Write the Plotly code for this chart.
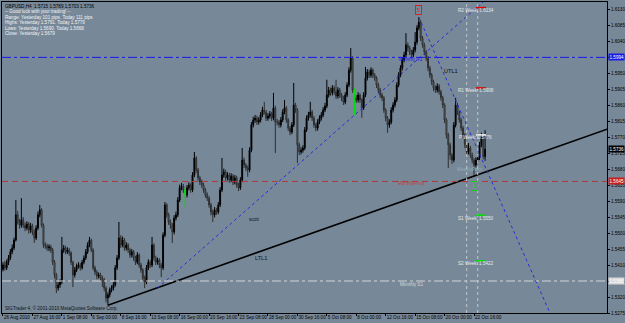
import plotly.graph_objects as go

# ---------------- data ----------------
OPEN_FIRST = 1.5398
CLOSES = [
    1.5410, 1.5402, 1.5418, 1.5430, 1.5447, 1.5458, 1.5480, 1.5551, 1.5531, 1.5522,
    1.5537, 1.5522, 1.5514, 1.5525, 1.5508, 1.5520, 1.5503, 1.5486, 1.5514, 1.5551,
    1.5565, 1.5522, 1.5466, 1.5463, 1.5458, 1.5461, 1.5452, 1.5418, 1.5382, 1.5345,
    1.5354, 1.5362, 1.5452, 1.5458, 1.5447, 1.5452, 1.5444, 1.5418, 1.5382, 1.5396,
    1.5407, 1.5410, 1.5402, 1.5418, 1.5430, 1.5447, 1.5466, 1.5480, 1.5452, 1.5402,
    1.5390, 1.5379, 1.5382, 1.5373, 1.5368, 1.5345, 1.5317, 1.5326, 1.5340, 1.5345,
    1.5354, 1.5402, 1.5430, 1.5486, 1.5466, 1.5480, 1.5458, 1.5466, 1.5452, 1.5438,
    1.5447, 1.5430, 1.5418, 1.5438, 1.5410, 1.5396, 1.5373, 1.5362, 1.5402, 1.5418,
    1.5410, 1.5466, 1.5430, 1.5418, 1.5424, 1.5410, 1.5402, 1.5494, 1.5579, 1.5551,
    1.5531, 1.5522, 1.5503, 1.5542, 1.5551, 1.5593, 1.5627, 1.5632, 1.5621, 1.5607,
    1.5627, 1.5635, 1.5621, 1.5663, 1.5711, 1.5677, 1.5655, 1.5643, 1.5635, 1.5621,
    1.5607, 1.5598, 1.5579, 1.5559, 1.5551, 1.5565, 1.5559, 1.5579, 1.5621, 1.5663,
    1.5672, 1.5655, 1.5663, 1.5649, 1.5660, 1.5643, 1.5655, 1.5635, 1.5627, 1.5649,
    1.5705, 1.5691, 1.5683, 1.5677, 1.5733, 1.5804, 1.5818, 1.5823, 1.5812, 1.5818,
    1.5832, 1.5846, 1.5840, 1.5823, 1.5829, 1.5835, 1.5823, 1.5852, 1.5812, 1.5812,
    1.5804, 1.5818, 1.5840, 1.5852, 1.5818, 1.5795, 1.5784, 1.5804, 1.5860, 1.5846,
    1.5748, 1.5728, 1.5733, 1.5739, 1.5790, 1.5823, 1.5832, 1.5840, 1.5823, 1.5804,
    1.5795, 1.5812, 1.5823, 1.5832, 1.5846, 1.5857, 1.5888, 1.5902, 1.5894, 1.5908,
    1.5897, 1.5885, 1.5902, 1.5888, 1.5880, 1.5868, 1.5888, 1.5916, 1.5958, 1.5992,
    1.5902, 1.5880, 1.5874, 1.5888, 1.5874, 1.5852, 1.5888, 1.5936, 1.5953, 1.5944,
    1.5958, 1.5944, 1.5936, 1.5916, 1.5902, 1.5888, 1.5880, 1.5846, 1.5823, 1.5804,
    1.5812, 1.5846, 1.5860, 1.5874, 1.5916, 1.5944, 1.5964, 1.5987, 1.6001, 1.6029,
    1.6020, 1.6009, 1.6001, 1.6015, 1.6037, 1.6077, 1.6093, 1.6048, 1.6029, 1.6009,
    1.5992, 1.5964, 1.5944, 1.5925, 1.5908, 1.5902, 1.5913, 1.5897, 1.5880, 1.5860,
    1.5818, 1.5776, 1.5748, 1.5719, 1.5705, 1.5804, 1.5860, 1.5840, 1.5818, 1.5795,
    1.5776, 1.5748, 1.5728, 1.5739, 1.5719, 1.5705, 1.5691, 1.5705, 1.5711, 1.5748,
    1.5767, 1.5715, 1.5736,
]
HIGHS = [
    1.5418, 1.5421, 1.5425, 1.5438, 1.5455, 1.5468, 1.5487, 1.5593, 1.5562, 1.5540,
    1.5598, 1.5545, 1.5530, 1.5533, 1.5531, 1.5528, 1.5526, 1.5510, 1.5522, 1.5560,
    1.5579, 1.5570, 1.5527, 1.5474, 1.5470, 1.5468, 1.5467, 1.5458, 1.5424, 1.5388,
    1.5362, 1.5370, 1.5489, 1.5466, 1.5464, 1.5460, 1.5458, 1.5448, 1.5422, 1.5404,
    1.5414, 1.5418, 1.5416, 1.5425, 1.5437, 1.5455, 1.5474, 1.5489, 1.5484, 1.5457,
    1.5408, 1.5396, 1.5389, 1.5388, 1.5380, 1.5374, 1.5350, 1.5333, 1.5347, 1.5353,
    1.5362, 1.5410, 1.5438, 1.5531, 1.5494, 1.5490, 1.5486, 1.5474, 1.5472, 1.5458,
    1.5455, 1.5452, 1.5436, 1.5446, 1.5443, 1.5416, 1.5401, 1.5380, 1.5410, 1.5426,
    1.5424, 1.5489, 1.5471, 1.5436, 1.5431, 1.5429, 1.5416, 1.5502, 1.5587, 1.5584,
    1.5557, 1.5538, 1.5528, 1.5550, 1.5560, 1.5601, 1.5636, 1.5641, 1.5638, 1.5627,
    1.5635, 1.5643, 1.5640, 1.5671, 1.5728, 1.5716, 1.5683, 1.5661, 1.5650, 1.5641,
    1.5627, 1.5614, 1.5604, 1.5585, 1.5566, 1.5573, 1.5571, 1.5587, 1.5629, 1.5711,
    1.5681, 1.5678, 1.5671, 1.5669, 1.5668, 1.5666, 1.5663, 1.5661, 1.5641, 1.5657,
    1.5739, 1.5712, 1.5697, 1.5690, 1.5741, 1.5812, 1.5827, 1.5832, 1.5830, 1.5826,
    1.5840, 1.5855, 1.5869, 1.5846, 1.5837, 1.5843, 1.5841, 1.5894, 1.5858, 1.5821,
    1.5818, 1.5826, 1.5848, 1.5874, 1.5857, 1.5823, 1.5801, 1.5812, 1.5922, 1.5866,
    1.5851, 1.5754, 1.5741, 1.5747, 1.5798, 1.5831, 1.5841, 1.5869, 1.5846, 1.5829,
    1.5810, 1.5820, 1.5831, 1.5840, 1.5854, 1.5866, 1.5931, 1.5911, 1.5909, 1.5916,
    1.5914, 1.5931, 1.5910, 1.5908, 1.5894, 1.5886, 1.5896, 1.5924, 1.5966, 1.6020,
    1.5997, 1.5906, 1.5888, 1.5896, 1.5893, 1.5879, 1.5896, 1.5967, 1.5961, 1.5960,
    1.5966, 1.5963, 1.5950, 1.5941, 1.5922, 1.5908, 1.5894, 1.5885, 1.5851, 1.5829,
    1.5820, 1.5854, 1.5868, 1.5882, 1.5924, 1.5952, 1.5972, 1.5995, 1.6010, 1.6062,
    1.6036, 1.6026, 1.6015, 1.6023, 1.6065, 1.6085, 1.6107, 1.6099, 1.6054, 1.6035,
    1.6015, 1.5998, 1.5970, 1.5950, 1.5931, 1.5915, 1.5921, 1.5919, 1.5903, 1.5886,
    1.5865, 1.5823, 1.5782, 1.5754, 1.5725, 1.5812, 1.5880, 1.5866, 1.5845, 1.5824,
    1.5801, 1.5781, 1.5754, 1.5753, 1.5745, 1.5726, 1.5711, 1.5713, 1.5719, 1.5756,
    1.5782, 1.5772, 1.5789,
]
LOWS = [
    1.5392, 1.5394, 1.5396, 1.5410, 1.5424, 1.5440, 1.5452, 1.5476, 1.5524, 1.5512,
    1.5515, 1.5514, 1.5505, 1.5508, 1.5498, 1.5500, 1.5494, 1.5472, 1.5480, 1.5508,
    1.5544, 1.5515, 1.5458, 1.5455, 1.5450, 1.5449, 1.5444, 1.5410, 1.5372, 1.5331,
    1.5338, 1.5346, 1.5356, 1.5444, 1.5440, 1.5441, 1.5436, 1.5410, 1.5348, 1.5375,
    1.5390, 1.5400, 1.5394, 1.5397, 1.5412, 1.5424, 1.5441, 1.5460, 1.5446, 1.5395,
    1.5382, 1.5370, 1.5372, 1.5365, 1.5348, 1.5336, 1.5305, 1.5297, 1.5319, 1.5333,
    1.5338, 1.5349, 1.5396, 1.5424, 1.5458, 1.5460, 1.5450, 1.5451, 1.5444, 1.5430,
    1.5431, 1.5422, 1.5410, 1.5412, 1.5402, 1.5388, 1.5364, 1.5345, 1.5356, 1.5396,
    1.5402, 1.5404, 1.5422, 1.5410, 1.5411, 1.5401, 1.5376, 1.5396, 1.5488, 1.5543,
    1.5523, 1.5512, 1.5472, 1.5496, 1.5535, 1.5545, 1.5587, 1.5620, 1.5613, 1.5573,
    1.5600, 1.5620, 1.5613, 1.5615, 1.5657, 1.5669, 1.5647, 1.5635, 1.5627, 1.5613,
    1.5599, 1.5590, 1.5571, 1.5550, 1.5531, 1.5544, 1.5551, 1.5553, 1.5573, 1.5615,
    1.5655, 1.5647, 1.5648, 1.5641, 1.5643, 1.5635, 1.5637, 1.5627, 1.5618, 1.5621,
    1.5643, 1.5683, 1.5674, 1.5658, 1.5671, 1.5727, 1.5797, 1.5810, 1.5804, 1.5805,
    1.5811, 1.5826, 1.5833, 1.5815, 1.5816, 1.5822, 1.5815, 1.5817, 1.5725, 1.5803,
    1.5796, 1.5797, 1.5812, 1.5834, 1.5810, 1.5787, 1.5775, 1.5778, 1.5798, 1.5838,
    1.5697, 1.5719, 1.5721, 1.5726, 1.5733, 1.5784, 1.5816, 1.5825, 1.5815, 1.5796,
    1.5786, 1.5788, 1.5806, 1.5816, 1.5826, 1.5840, 1.5851, 1.5881, 1.5886, 1.5887,
    1.5889, 1.5877, 1.5878, 1.5880, 1.5871, 1.5860, 1.5862, 1.5882, 1.5910, 1.5951,
    1.5894, 1.5832, 1.5866, 1.5867, 1.5866, 1.5824, 1.5846, 1.5882, 1.5929, 1.5936,
    1.5937, 1.5936, 1.5928, 1.5908, 1.5893, 1.5880, 1.5871, 1.5838, 1.5814, 1.5782,
    1.5796, 1.5806, 1.5839, 1.5853, 1.5868, 1.5910, 1.5938, 1.5957, 1.5980, 1.5995,
    1.6011, 1.6001, 1.5992, 1.5994, 1.6008, 1.6030, 1.6070, 1.6040, 1.6021, 1.6000,
    1.5984, 1.5955, 1.5936, 1.5916, 1.5899, 1.5894, 1.5895, 1.5889, 1.5872, 1.5851,
    1.5809, 1.5766, 1.5683, 1.5706, 1.5694, 1.5699, 1.5797, 1.5832, 1.5810, 1.5787,
    1.5767, 1.5739, 1.5719, 1.5721, 1.5711, 1.5696, 1.5658, 1.5684, 1.5698, 1.5705,
    1.5741, 1.5707, 1.5703,
]
GREEN_BARS = [99, 191]

X_TICK_BARS = [0, 16, 32, 48, 64, 80, 96, 112, 128, 144, 160, 176, 192, 208, 224, 240, 256]
X_TICK_TEXT = ["26 Aug 2010", "27 Aug 16:00", "1 Sep 08:00", "6 Sep 00:00", "8 Sep 16:00",
               "13 Sep 08:00", "16 Sep 00:00", "20 Sep 16:00", "23 Sep 08:00", "28 Sep 00:00",
               "30 Sep 16:00", "5 Oct 08:00", "8 Oct 00:00", "12 Oct 16:00", "15 Oct 08:00",
               "20 Oct 00:00", "22 Oct 16:00"]
Y_TICK_TEXT = ["1.6130", "1.6085", "1.6040", "1.5995", "1.5950", "1.5905", "1.5860", "1.5815",
               "1.5770", "1.5725", "1.5680", "1.5635", "1.5590", "1.5545", "1.5500", "1.5455",
               "1.5410", "1.5365", "1.5320", "1.5275"]

MONTHLY_R1 = 1.5994
MONTHLY_PIVOT = 1.5645
MONTHLY_S1 = 1.5365
MONTHLY_LABEL_BAR = 222

WEEK_NAMES = ["R2 Week", "R1 Week", "P Week", "S1 Week", "S2 Week"]
WEEK_VALUES = [1.6134, 1.5908, 1.5776, 1.5550, 1.5422]
WEEK_SEG_BARS = [257, 262.5]
SEPARATOR_BARS = [252, 258]

LTL1_BARS = [57, 328.3]
LTL1_PRICES = [1.5297, 1.5792]
UP_DOT_BARS = [84, 261]
UP_DOT_PRICES = [1.5345, 1.6150]
UTL1_BARS = [226, 300]
UTL1_PRICES = [1.6107, 1.5243]

HEADER_MAIN = "GBPUSD,H4  1.5715 1.5789 1.5703 1.5736"
HEADER_LINES = ["-- Good luck with your trading! --",
                "Range: Yesterday 101 pips. Today 111 pips",
                "Highs: Yesterday 1.5791. Today 1.5779",
                "Lows: Yesterday 1.5690. Today 1.5668",
                "Close: Yesterday 1.5679"]
COPYRIGHT = "SIGTrader 4, \u00a9 2001-2010 MetaQuotes Software Corp."

# ---------------- figure ----------------
FONT = "Liberation Sans"
BG = "#778899"
n = len(CLOSES)
opens = [OPEN_FIRST] + CLOSES[:-1]
bars = list(range(n))
normal = [i for i in bars if i not in GREEN_BARS]

fig = go.Figure()
fig.add_trace(go.Candlestick(
    x=[bars[i] for i in normal], open=[opens[i] for i in normal],
    high=[HIGHS[i] for i in normal], low=[LOWS[i] for i in normal],
    close=[CLOSES[i] for i in normal],
    increasing=dict(line=dict(color="#000000", width=1), fillcolor="#000000"),
    decreasing=dict(line=dict(color="#2e2e2e", width=1), fillcolor="#8e949a"),
    whiskerwidth=0, showlegend=False, hoverinfo="skip"))
fig.add_trace(go.Candlestick(
    x=GREEN_BARS, open=[opens[i] for i in GREEN_BARS],
    high=[HIGHS[i] for i in GREEN_BARS], low=[LOWS[i] for i in GREEN_BARS],
    close=[CLOSES[i] for i in GREEN_BARS],
    increasing=dict(line=dict(color="#00e000", width=1), fillcolor="#00e000"),
    decreasing=dict(line=dict(color="#00e000", width=1), fillcolor="#00e000"),
    whiskerwidth=0, showlegend=False, hoverinfo="skip"))

xmin, xmax = -0.54, 328.26
# trend lines
fig.add_trace(go.Scatter(x=LTL1_BARS, y=LTL1_PRICES, mode="lines",
                         line=dict(color="#000000", width=1.6), showlegend=False, hoverinfo="skip"))
fig.add_trace(go.Scatter(x=UP_DOT_BARS, y=UP_DOT_PRICES, mode="lines",
                         line=dict(color="#2b2bd8", width=1, dash="dot"), showlegend=False, hoverinfo="skip"))
fig.add_trace(go.Scatter(x=UTL1_BARS, y=UTL1_PRICES, mode="lines",
                         line=dict(color="#2b2bd8", width=1, dash="dot"), showlegend=False, hoverinfo="skip"))

# monthly levels (full width)
for val, col, dash in [(MONTHLY_R1, "#1a1ae6", "dashdot"),
                       (MONTHLY_PIVOT, "#b03a3a", "6px,4px"),
                       (MONTHLY_S1, "#d4d4d4", "dashdot")]:
    fig.add_shape(type="line", xref="paper", x0=0, x1=1, y0=val, y1=val,
                  line=dict(color=col, width=1, dash=dash))

# separators
for b in SEPARATOR_BARS:
    fig.add_shape(type="line", yref="paper", x0=b, x1=b, y0=0, y1=1,
                  line=dict(color="#c4c8cc", width=1, dash="dot"))

# weekly pivot segments and labels
week_cols = ["#e00000", "#e00000", "#f0f0f0", "#00e000", "#00e000"]
for name, val, col in zip(WEEK_NAMES, WEEK_VALUES, week_cols):
    fig.add_shape(type="line", x0=WEEK_SEG_BARS[0], x1=WEEK_SEG_BARS[1], y0=val, y1=val,
                  line=dict(color=col, width=1.5))
    fig.add_annotation(x=WEEK_SEG_BARS[0], y=val, text=f"{name}: {val:.4f}", showarrow=False,
                       xanchor="center", yanchor="middle", yshift=-3,
                       font=dict(family=FONT, size=4.6, color="#e8e8e8"))

ann_font = lambda s, c: dict(family=FONT, size=s, color=c)
fig.add_annotation(x=MONTHLY_LABEL_BAR, y=MONTHLY_R1, text="Monthly R1", showarrow=False,
                   yshift=-2, font=ann_font(4.6, "#1a1ae6"))
fig.add_annotation(x=MONTHLY_LABEL_BAR, y=MONTHLY_PIVOT, text="MonthlyPivot", showarrow=False,
                   yshift=-2, font=ann_font(4.6, "#c04040"))
fig.add_annotation(x=MONTHLY_LABEL_BAR, y=MONTHLY_S1, text="Monthly S1", showarrow=False,
                   yshift=-3, font=ann_font(4.6, "#d8d8d8"))
fig.add_annotation(x=254, y=MONTHLY_PIVOT, text="WeeklyPivot", showarrow=False,
                   yshift=12, font=ann_font(4.6, "#8fb3b3"))

# trend labels
fig.add_annotation(x=243.5, y=1.5956, text="UTL1", showarrow=False, font=ann_font(5.6, "#111111"))
fig.add_annotation(x=140, y=1.5430, text="LTL1", showarrow=False, font=ann_font(5.6, "#111111"))
fig.add_annotation(x=136.5, y=1.5539, text="scott", showarrow=False, font=ann_font(4.6, "#111111"))

# swing markers
hi_bar = HIGHS.index(max(HIGHS))
fig.add_annotation(x=hi_bar, y=HIGHS[hi_bar], text="5", showarrow=False, yshift=7,
                   bordercolor="#e02020", borderwidth=1, borderpad=1,
                   font=ann_font(5, "#e02020"))
lo_bar = 256
fig.add_annotation(x=lo_bar, y=LOWS[lo_bar], text="0", showarrow=False, yshift=-9,
                   bordercolor="#00e000", borderwidth=1, borderpad=1,
                   font=ann_font(5, "#00e000"))

# header
fig.add_annotation(xref="paper", yref="paper", x=0, y=1, xanchor="left", yanchor="top",
                   xshift=1, yshift=0, text=HEADER_MAIN, showarrow=False,
                   font=ann_font(4.6, "#000000"))
for k, line in enumerate(HEADER_LINES):
    fig.add_annotation(xref="paper", yref="paper", x=0, y=1, xanchor="left", yanchor="top",
                       xshift=1, yshift=-5.4 * (k + 1), text=line, showarrow=False,
                       font=ann_font(4.6, "#f4f4f4"))
fig.add_annotation(xref="paper", yref="paper", x=0, y=0, xanchor="left", yanchor="bottom",
                   xshift=1, yshift=0, text=COPYRIGHT, showarrow=False,
                   font=ann_font(4.6, "#111111"))

# right-axis highlighted price labels
for val, bg, fg in [(MONTHLY_R1, "#1a1ae6", "#ffffff"), (CLOSES[-1], "#000000", "#ffffff"),
                    (MONTHLY_PIVOT, "#c81e1e", "#ffffff"), (MONTHLY_S1, "#d8d8d8", "#ffffff")]:
    fig.add_annotation(xref="paper", x=1, y=val, xanchor="left", yanchor="middle", xshift=1,
                       text=f"{val:.4f}", showarrow=False, bgcolor=bg, borderpad=0.5,
                       font=ann_font(4.6, fg))

fig.update_layout(
    width=625, height=323, margin=dict(l=2, r=18, t=2, b=10),
    paper_bgcolor=BG, plot_bgcolor=BG, template="none", showlegend=False,
    xaxis=dict(range=[xmin, xmax], tickvals=X_TICK_BARS, ticktext=X_TICK_TEXT,
               ticklabelposition="outside right", tickangle=0,
               tickfont=dict(family=FONT, size=4.6, color="#000"),
               ticks="outside", ticklen=2, tickcolor="#000", showgrid=False, zeroline=False,
               ticklabelstandoff=-1,
               showline=True, mirror=True, linecolor="#000", linewidth=1,
               rangeslider=dict(visible=False), automargin=False, fixedrange=True),
    yaxis=dict(range=[1.52750, 1.61497], side="right",
               tickvals=[float(t) for t in Y_TICK_TEXT], ticktext=Y_TICK_TEXT,
               tickfont=dict(family=FONT, size=4.6, color="#000"),
               ticks="outside", ticklen=2, tickcolor="#000", showgrid=False, zeroline=False,
               showline=True, mirror=True, linecolor="#000", linewidth=1,
               automargin=False, fixedrange=True),
)

fig.write_html("out.html")
